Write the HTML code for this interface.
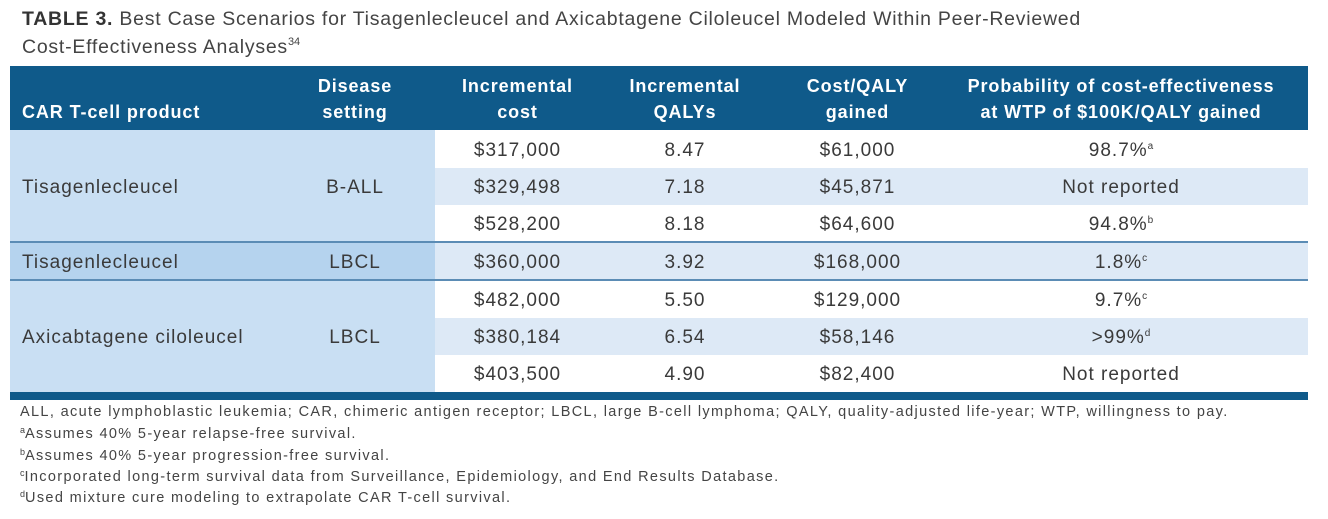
<!DOCTYPE html>
<html><head><meta charset="utf-8"><style>
*{margin:0;padding:0;box-sizing:border-box}
body{width:1328px;height:519px;background:#fff;font-family:"Liberation Sans",sans-serif;color:#3a3a3a;position:relative;overflow:hidden}
.a{position:absolute;white-space:nowrap}
.t{font-size:19.5px;color:#444;letter-spacing:0.75px}
.h{position:absolute;left:10px;top:66px;width:1298px;height:64px;background:#0f5a8a}
.hc{position:absolute;color:#fff;font-weight:bold;font-size:18px;text-align:center;line-height:26px;letter-spacing:0.9px}
.c{position:absolute;font-size:19px;text-align:center;line-height:37px;color:#3a3a3a;letter-spacing:1px;white-space:nowrap;margin-top:1px}
sup{font-size:10px;vertical-align:7px;line-height:0;letter-spacing:0}
.f{font-size:14.5px;color:#444;left:20px;letter-spacing:1.35px}
.f sup{font-size:9px;vertical-align:5px}
</style></head><body>
<div class="a t" style="left:22px;top:8px"><b style="color:#333">TABLE 3.</b> Best Case Scenarios for Tisagenlecleucel and Axicabtagene Ciloleucel Modeled Within Peer-Reviewed</div>
<div class="a t" style="left:22px;top:36px">Cost-Effectiveness Analyses<sup style="font-size:11px;vertical-align:8px">34</sup></div>
<div class="h"></div>
<div class="hc" style="left:22px;top:99px;text-align:left">CAR T-cell product</div>
<div class="hc" style="left:300px;width:110px;top:73px">Disease<br>setting</div>
<div class="hc" style="left:435px;width:165px;top:73px">Incremental<br>cost</div>
<div class="hc" style="left:600px;width:170px;top:73px">Incremental<br>QALYs</div>
<div class="hc" style="left:770px;width:175px;top:73px">Cost/QALY<br>gained</div>
<div class="hc" style="left:945px;width:352px;top:73px">Probability of cost-effectiveness<br>at WTP of $100K/QALY gained</div>
<div class="a" style="left:10px;top:130px;width:425px;height:262px;background:#c9dff3"></div>
<div class="a" style="left:10px;top:242px;width:425px;height:38px;background:#b5d3ee"></div>
<div class="a" style="left:435px;top:168px;width:873px;height:37px;background:#dde9f6"></div>
<div class="a" style="left:435px;top:242px;width:873px;height:38px;background:#dde9f6"></div>
<div class="a" style="left:435px;top:318px;width:873px;height:37px;background:#dde9f6"></div>
<div class="a" style="left:10px;top:241px;width:1298px;height:2px;background:#5b8cb5"></div>
<div class="a" style="left:10px;top:279px;width:1298px;height:2px;background:#5b8cb5"></div>
<div class="a" style="left:10px;top:392px;width:1298px;height:8px;background:#0f5a8a"></div>
<div class="c" style="left:22px;top:168px;text-align:left">Tisagenlecleucel</div>
<div class="c" style="left:300px;width:110px;top:168px">B-ALL</div>
<div class="c" style="left:22px;top:243px;text-align:left">Tisagenlecleucel</div>
<div class="c" style="left:300px;width:110px;top:243px">LBCL</div>
<div class="c" style="left:22px;top:318px;text-align:left">Axicabtagene ciloleucel</div>
<div class="c" style="left:300px;width:110px;top:318px">LBCL</div>
<div class="c" style="left:435px;width:165px;top:131px">$317,000</div><div class="c" style="left:600px;width:170px;top:131px">8.47</div><div class="c" style="left:770px;width:175px;top:131px">$61,000</div><div class="c" style="left:945px;width:352px;top:131px">98.7%<sup>a</sup></div>
<div class="c" style="left:435px;width:165px;top:168px">$329,498</div><div class="c" style="left:600px;width:170px;top:168px">7.18</div><div class="c" style="left:770px;width:175px;top:168px">$45,871</div><div class="c" style="left:945px;width:352px;top:168px">Not reported</div>
<div class="c" style="left:435px;width:165px;top:205px">$528,200</div><div class="c" style="left:600px;width:170px;top:205px">8.18</div><div class="c" style="left:770px;width:175px;top:205px">$64,600</div><div class="c" style="left:945px;width:352px;top:205px">94.8%<sup>b</sup></div>
<div class="c" style="left:435px;width:165px;top:243px">$360,000</div><div class="c" style="left:600px;width:170px;top:243px">3.92</div><div class="c" style="left:770px;width:175px;top:243px">$168,000</div><div class="c" style="left:945px;width:352px;top:243px">1.8%<sup>c</sup></div>
<div class="c" style="left:435px;width:165px;top:281px">$482,000</div><div class="c" style="left:600px;width:170px;top:281px">5.50</div><div class="c" style="left:770px;width:175px;top:281px">$129,000</div><div class="c" style="left:945px;width:352px;top:281px">9.7%<sup>c</sup></div>
<div class="c" style="left:435px;width:165px;top:318px">$380,184</div><div class="c" style="left:600px;width:170px;top:318px">6.54</div><div class="c" style="left:770px;width:175px;top:318px">$58,146</div><div class="c" style="left:945px;width:352px;top:318px">&gt;99%<sup>d</sup></div>
<div class="c" style="left:435px;width:165px;top:355px">$403,500</div><div class="c" style="left:600px;width:170px;top:355px">4.90</div><div class="c" style="left:770px;width:175px;top:355px">$82,400</div><div class="c" style="left:945px;width:352px;top:355px">Not reported</div>
<div class="a f" style="top:404px">ALL, acute lymphoblastic leukemia; CAR, chimeric antigen receptor; LBCL, large B-cell lymphoma; QALY, quality-adjusted life-year; WTP, willingness to pay.</div>
<div class="a f" style="top:426px"><sup>a</sup>Assumes 40% 5-year relapse-free survival.</div>
<div class="a f" style="top:448px"><sup>b</sup>Assumes 40% 5-year progression-free survival.</div>
<div class="a f" style="top:469px"><sup>c</sup>Incorporated long-term survival data from Surveillance, Epidemiology, and End Results Database.</div>
<div class="a f" style="top:490px"><sup>d</sup>Used mixture cure modeling to extrapolate CAR T-cell survival.</div>
</body></html>
